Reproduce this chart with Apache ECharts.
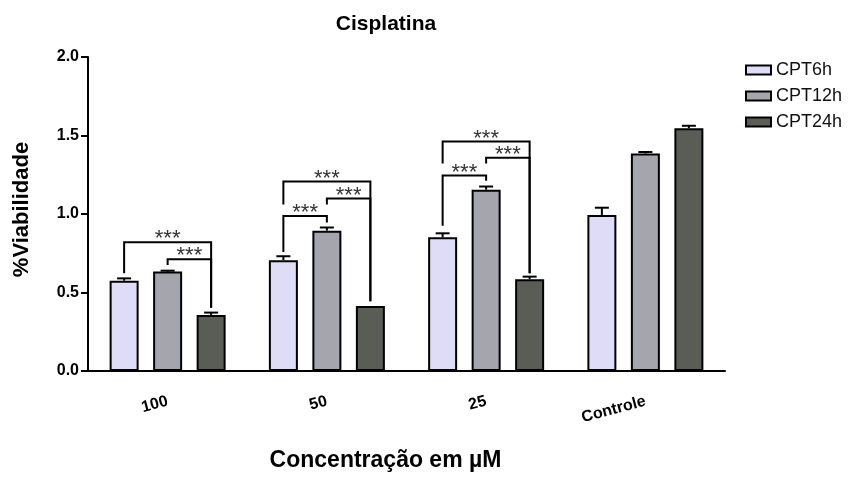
<!DOCTYPE html>
<html>
<head>
<meta charset="utf-8">
<script src="https://cdn.jsdelivr.net/npm/echarts@6/dist/echarts.min.js"></script>
<style>
  html, body { margin: 0; padding: 0; background: #fff; }
  #chart { width: 851px; height: 477px; }
</style>
</head>
<body>
<div id="chart"></div>
<script>
// concentration groups
var categories = ['100', '50', '25', 'Controle'];
var seriesNames = ['CPT6h', 'CPT12h', 'CPT24h'];

// mean viability and error (SEM) per group
var cpt6h = [0.575, 0.706, 0.852, 0.994];
var cpt6hErr = [0.015, 0.025, 0.025, 0.046];
var cpt12h = [0.633, 0.894, 1.155, 1.385];
var cpt12hErr = [0.006, 0.020, 0.020, 0.010];
var cpt24h = [0.357, 0.414, 0.585, 1.546];
var cpt24hErr = [0.015, 0.000, 0.016, 0.016];

var yTicks = [0, 0.5, 1.0, 1.5, 2.0];

// significance brackets: [group, fromBar, toBar, top, leftLegEnd, rightLegEnd]
var brackets = [
  [0, 0, 2, 0.820, 0.622, 0.403],
  [0, 1, 2, 0.712, 0.675, 0.403],
  [1, 0, 2, 1.207, 1.061, 0.445],
  [1, 0, 1, 0.988, 0.758, 0.946],
  [1, 1, 2, 1.098, 1.061, 0.445],
  [2, 0, 2, 1.462, 1.322, 0.622],
  [2, 0, 1, 1.245, 0.925, 1.211],
  [2, 1, 2, 1.358, 1.322, 0.622]
];
var starLabel = '***';

var colors = ['#dedcf7', '#a5a5ad', '#5a5c56'];
var barWidth = 29;
var barGap = 0.5;
var step = barWidth * (1 + barGap);

var means = [cpt6h, cpt12h, cpt24h];
var errs = [cpt6hErr, cpt12hErr, cpt24hErr];

var errData = [];
means.forEach(function (arr, s) {
  arr.forEach(function (v, i) {
    errData.push([i, s, v, errs[s][i]]);
  });
});

var series = seriesNames.map(function (name, s) {
  return {
    name: name,
    type: 'bar',
    data: means[s],
    barWidth: barWidth,
    barGap: (barGap * 100) + '%',
    itemStyle: { color: colors[s], borderColor: '#000', borderWidth: 2 },
    z: 2
  };
});

series.push({
  type: 'custom',
  data: errData,
  z: 3,
  renderItem: function (params, api) {
    var cat = api.value(0), s = api.value(1), m = api.value(2), e = api.value(3);
    if (!e) return null;
    var p0 = api.coord([cat, m]);
    var p1 = api.coord([cat, m + e]);
    var x = p0[0] + (s - 1) * step;
    return {
      type: 'group',
      children: [
        { type: 'line', shape: { x1: x, y1: p0[1], x2: x, y2: p1[1] }, style: { stroke: '#000', lineWidth: 2 } },
        { type: 'line', shape: { x1: x - 7, y1: p1[1], x2: x + 7, y2: p1[1] }, style: { stroke: '#000', lineWidth: 2 } }
      ]
    };
  }
});

series.push({
  type: 'custom',
  data: brackets,
  z: 4,
  renderItem: function (params, api) {
    var cat = api.value(0), a = api.value(1), b = api.value(2);
    var top = api.coord([cat, api.value(3)]);
    var le = api.coord([cat, api.value(4)]);
    var re = api.coord([cat, api.value(5)]);
    var xl = top[0] + (a - 1) * step;
    var xr = top[0] + (b - 1) * step;
    return {
      type: 'group',
      children: [
        {
          type: 'polyline',
          shape: { points: [[xl, le[1]], [xl, top[1]], [xr, top[1]], [xr, re[1]]] },
          style: { stroke: '#000', lineWidth: 2, fill: null }
        },
        {
          type: 'text',
          x: (xl + xr) / 2,
          y: top[1] - 3,
          style: {
            text: starLabel,
            fontSize: 22,
            fontFamily: 'Liberation Sans, Arial',
            fill: '#333',
            align: 'center',
            verticalAlign: 'middle'
          }
        }
      ]
    };
  }
});

var option = {
  animation: false,
  backgroundColor: '#fff',
  title: {
    text: 'Cisplatina',
    left: 381,
    top: 9,
    textAlign: 'center',
    textStyle: { fontFamily: 'Liberation Sans, Arial', fontWeight: 'bold', fontSize: 21, color: '#000' }
  },
  legend: {
    data: seriesNames,
    orient: 'vertical',
    left: 740,
    top: 56,
    itemWidth: 25,
    itemHeight: 9,
    itemGap: 8,
    icon: 'rect',
    textStyle: { fontFamily: 'Liberation Sans, Arial', fontSize: 18, color: '#111' }
  },
  grid: { left: 88, right: 126, top: 57, bottom: 101 },
  xAxis: {
    type: 'category',
    data: categories,
    name: 'Concentração em µM',
    nameLocation: 'middle',
    nameGap: 78,
    nameTextStyle: { fontFamily: 'Liberation Sans, Arial', fontWeight: 'bold', fontSize: 23, color: '#000', padding: [0, 42, 0, 0] },
    axisLine: { lineStyle: { color: '#000', width: 2 } },
    axisTick: { alignWithLabel: true, length: 7, lineStyle: { color: '#000', width: 2 } },
    axisLabel: { rotate: 15, margin: 30, fontFamily: 'Liberation Sans, Arial', fontWeight: 'bold', fontSize: 16, color: '#000' }
  },
  yAxis: {
    type: 'value',
    min: yTicks[0],
    max: yTicks[yTicks.length - 1],
    interval: yTicks[1] - yTicks[0],
    name: '%Viabilidade',
    nameLocation: 'middle',
    nameGap: 55,
    nameTextStyle: { fontFamily: 'Liberation Sans, Arial', fontWeight: 'bold', fontSize: 22, color: '#000', padding: [0, 0, 0, 9] },
    splitLine: { show: false },
    axisLine: { show: true, lineStyle: { color: '#000', width: 2 } },
    axisTick: { show: true, length: 7, lineStyle: { color: '#000', width: 2 } },
    axisLabel: {
      margin: 9,
      fontFamily: 'Liberation Sans, Arial',
      fontWeight: 'bold',
      fontSize: 16,
      color: '#000',
      formatter: function (v) { return v.toFixed(1); }
    }
  },
  series: series
};

var chart = echarts.init(document.getElementById('chart'));
chart.setOption(option);
</script>
</body>
</html>
